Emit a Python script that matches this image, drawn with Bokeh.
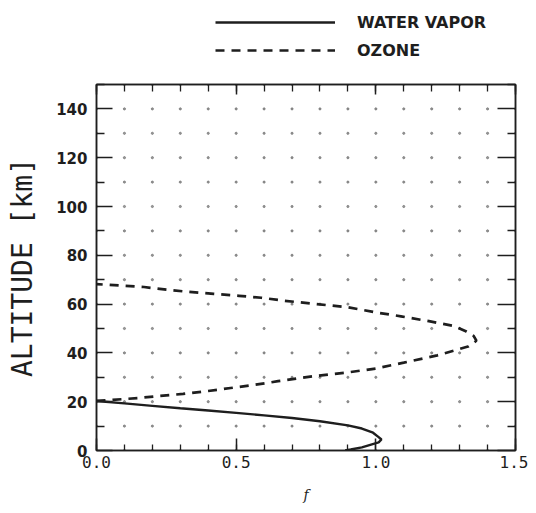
from bokeh.plotting import figure
from bokeh.models import (Range1d, LinearAxis, FixedTicker, Legend, LegendItem)
from bokeh.layouts import column
from bokeh.embed import file_html
from bokeh.resources import INLINE
import numpy as np

# ---- data ----
wv_alt = [0, 0.4, 1.3, 2.3, 3.3, 4.5, 5.5, 7.3, 9.0, 10.3, 12.0, 13.3, 14.4,
          15.4, 16.4, 17.3, 18.3, 19.3, 20.3]
wv_f = [0.89, 0.91, 0.95, 0.98, 1.01, 1.02, 1.01, 0.99, 0.95, 0.9, 0.8, 0.7,
        0.6, 0.5, 0.4, 0.3, 0.2, 0.1, 0.0]

oz_alt = [20.3, 21.5, 22.3, 23.2, 24.4, 25.6, 26.8, 28.4, 30.5, 32, 33.6, 36,
          39, 42.6, 45, 47, 49, 51, 53, 55, 56.6, 58.7, 61.4, 62.6, 63.4, 64.2,
          65, 65.9, 67, 68.2]
oz_f = [0.0, 0.15, 0.22, 0.31, 0.4, 0.48, 0.56, 0.65, 0.78, 0.9, 1.0, 1.1,
        1.22, 1.33, 1.36, 1.35, 1.32, 1.28, 1.19, 1.09, 1.0, 0.9, 0.67, 0.59,
        0.51, 0.42, 0.33, 0.25, 0.17, 0.0]

series_names = ["WATER VAPOR", "OZONE"]

x_major = [0.0, 0.5, 1.0, 1.5]
x_minor = [round(0.1 * i, 1) for i in range(16)]
y_major = [0, 20, 40, 60, 80, 100, 120, 140]
y_minor = [10, 30, 50, 70, 90, 110, 130, 150]

INK = "#1e1e1e"
WV_STYLE = dict(line_color=INK, line_width=2.4)
OZ_STYLE = dict(line_color=INK, line_width=2.7, line_dash="9 7")

# ---------------- legend strip (top) ----------------
top = figure(width=528, height=76, output_backend="svg", toolbar_location=None,
             x_range=Range1d(0, 1), y_range=Range1d(0, 1),
             min_border_left=0, min_border_right=0, min_border_top=0,
             min_border_bottom=0)
top.axis.visible = False
top.grid.visible = False
top.outline_line_color = None
top.background_fill_color = "white"
top.border_fill_color = "white"
# legend-only renderers (hold no visible data)
lw = top.line([np.nan], [np.nan], **WV_STYLE)
lo = top.line([np.nan], [np.nan], **OZ_STYLE)
legend = Legend(items=[LegendItem(label=series_names[0], renderers=[lw]),
                       LegendItem(label=series_names[1], renderers=[lo])],
                location=(119, 16), orientation="vertical",
                glyph_width=120, glyph_height=20, label_height=20,
                label_standoff=22, spacing=8, padding=0, margin=0,
                border_line_color=None, background_fill_alpha=0,
                label_text_font="DejaVu Sans", label_text_font_style="bold",
                label_text_font_size="16px", label_text_color=INK)
top.add_layout(legend, "center")

# ---------------- main plot ----------------
p = figure(width=528, height=429, output_backend="svg", toolbar_location=None,
           x_range=Range1d(0, 1.5), y_range=Range1d(0, 150),
           min_border_left=96, min_border_right=13, min_border_top=8,
           min_border_bottom=52)
p.background_fill_color = "white"
p.border_fill_color = "white"
p.outline_line_color = INK
p.outline_line_width = 1.5
p.grid.visible = False

# dotted grid at tick intersections
gx, gy = np.meshgrid(x_minor, sorted(y_major + y_minor))
p.scatter(gx.ravel(), gy.ravel(), size=2.2, color="#666666", alpha=0.65)

p.line(wv_f, wv_alt, **WV_STYLE)
p.line(oz_f, oz_alt, **OZ_STYLE)

def style_axis(ax, ticks, minor, tin, min_in, labels=True):
    ax.ticker = FixedTicker(ticks=ticks, minor_ticks=minor)
    ax.axis_line_color = INK
    ax.axis_line_width = 1.5
    ax.major_tick_line_color = INK
    ax.minor_tick_line_color = INK
    ax.major_tick_line_width = 1.5
    ax.minor_tick_line_width = 1.3
    ax.major_tick_in = tin
    ax.major_tick_out = 0
    ax.minor_tick_in = min_in
    ax.minor_tick_out = 0
    if not labels:
        ax.major_label_text_font_size = "0px"
        ax.major_label_text_alpha = 0
        ax.major_label_standoff = 0

# left axis
ya = p.yaxis[0]
style_axis(ya, y_major, y_minor, 16, 8)
ya.major_label_text_font = "DejaVu Sans"
ya.major_label_text_font_style = "bold"
ya.major_label_text_font_size = "15px"
ya.major_label_text_color = INK
ya.major_label_standoff = 9
ya.axis_label = "ALTITUDE [km]"
ya.axis_label_text_font = "DejaVu Sans Mono"
ya.axis_label_text_font_style = "normal"
ya.axis_label_text_font_size = "28px"
ya.axis_label_text_color = INK
ya.axis_label_standoff = 14

# bottom axis
xa = p.xaxis[0]
style_axis(xa, x_major, x_minor, 12, 6)
xa.major_label_overrides = {0.0: "0.0", 0.5: "0.5", 1.0: "1.0", 1.5: "1.5"}
xa.major_label_text_font = "DejaVu Sans Mono"
xa.major_label_text_font_size = "16px"
xa.major_label_text_color = INK
xa.major_label_standoff = 5
xa.axis_label = "f"
xa.axis_label_text_font = "DejaVu Serif"
xa.axis_label_text_font_style = "italic"
xa.axis_label_text_font_size = "14px"
xa.axis_label_text_color = INK
xa.axis_label_standoff = 16

# right and top axes (ticks only)
ra = LinearAxis()
style_axis(ra, y_major, y_minor, 18, 8, labels=False)
p.add_layout(ra, "right")
ta = LinearAxis()
style_axis(ta, x_major, x_minor, 10, 7, labels=False)
p.add_layout(ta, "above")

layout = column(top, p, spacing=0)
open("out.html", "w").write(file_html(layout, INLINE))
